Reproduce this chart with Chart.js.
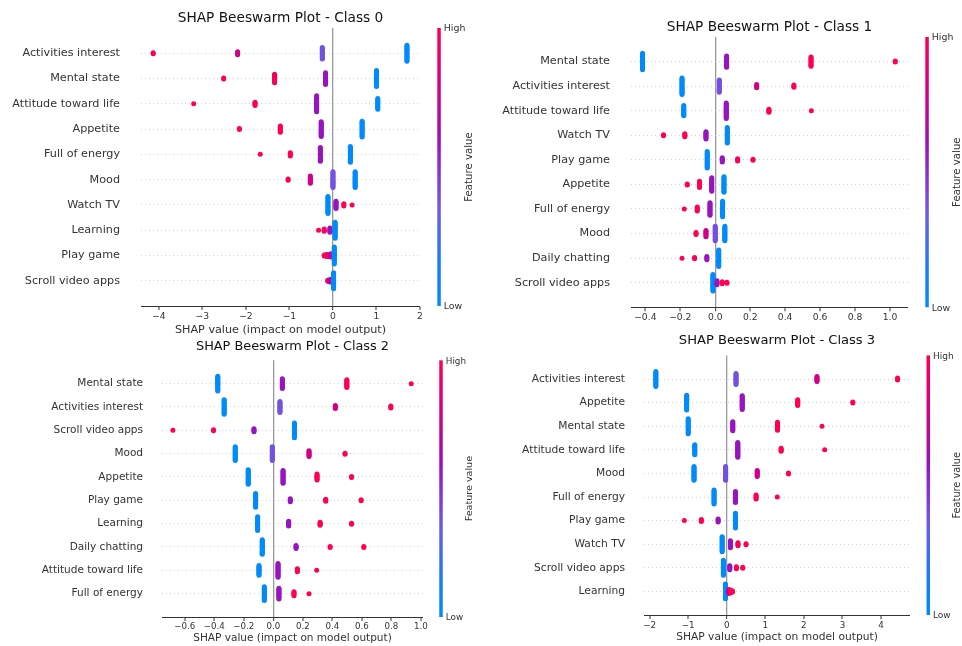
<!DOCTYPE html>
<html>
<head>
<meta charset="utf-8">
<script src="https://cdn.jsdelivr.net/npm/chart.js@4.4.0/dist/chart.umd.min.js"></script>
<style>
body { margin: 0; background: #fff; }
#wrap { position: relative; width: 962px; height: 646px; overflow: hidden; background: #fff; }
canvas { position: absolute; }
</style>
</head>
<body>
<div id="wrap">
  <canvas id="c0"></canvas>
  <canvas id="c1"></canvas>
  <canvas id="c2"></canvas>
  <canvas id="c3"></canvas>
</div>
<script>
'use strict';

// features, top row first
// clumps per row: [shap value, samples in clump, feature value 0(low)..1(high)]

// class 0
const features0 = ['Activities interest', 'Mental state', 'Attitude toward life', 'Appetite', 'Full of energy',
  'Mood', 'Watch TV', 'Learning', 'Play game', 'Scroll video apps'];
const clumps0 = [
  [[-4.13, 2, 1], [-2.19, 4, 0.8], [-0.245, 12, 0.38], [1.70, 16, 0]],
  [[-2.51, 2, 1], [-1.34, 9, 0.95], [-0.17, 12, 0.58], [1.0, 16, 0]],
  [[-3.2, 1, 1], [-1.79, 4, 1], [-0.375, 16, 0.58], [1.03, 11, 0]],
  [[-2.15, 2, 1], [-1.21, 7, 1], [-0.27, 15, 0.58], [0.67, 16, 0]],
  [[-1.67, 1, 1], [-0.98, 4, 1], [-0.29, 14, 0.58], [0.40, 16, 0]],
  [[-1.03, 2, 1], [-0.52, 8, 0.8], [0.0, 16, 0.38], [0.51, 16, 0]],
  [[-0.115, 17, 0], [0.07, 8, 0.58], [0.25, 3, 1], [0.44, 1, 1]],
  [[-0.33, 1, 1], [-0.2, 3, 1], [-0.07, 5, 0.58], [0.05, 16, 0]],
  [[-0.2, 2, 1], [-0.15, 3, 1], [-0.1, 3, 0.9], [-0.05, 4, 0.75], [0.03, 17, 0]],
  [[-0.12, 2, 1], [-0.08, 3, 0.8], [-0.04, 4, 0.7], [0.015, 16, 0]]
];
const ticks0 = [-4, -3, -2, -1, 0, 1, 2];

// class 1
const features1 = ['Mental state', 'Activities interest', 'Attitude toward life', 'Watch TV', 'Play game',
  'Appetite', 'Full of energy', 'Mood', 'Daily chatting', 'Scroll video apps'];
const clumps1 = [
  [[-0.416, 17, 0], [0.065, 12, 0.58], [0.548, 10, 1], [1.03, 2, 1]],
  [[-0.19, 17, 0], [0.023, 13, 0.38], [0.237, 4, 0.8], [0.45, 3, 1]],
  [[-0.18, 11, 0], [0.063, 16, 0.58], [0.307, 4, 1], [0.55, 1, 1]],
  [[-0.296, 2, 1], [-0.174, 4, 1], [-0.053, 8, 0.58], [0.069, 16, 0]],
  [[-0.046, 17, 0], [0.04, 5, 0.58], [0.128, 3, 1], [0.216, 2, 1]],
  [[-0.16, 2, 1], [-0.09, 7, 1], [-0.02, 14, 0.58], [0.05, 16, 0]],
  [[-0.177, 1, 1], [-0.103, 5, 1], [-0.03, 13, 0.58], [0.042, 16, 0]],
  [[-0.11, 3, 1], [-0.053, 7, 0.8], [0.0, 15, 0.38], [0.055, 15, 0]],
  [[-0.19, 1, 1], [-0.118, 2, 1], [-0.048, 4, 0.58], [0.02, 17, 0]],
  [[-0.013, 17, 0], [0.01, 5, 0.58], [0.04, 3, 1], [0.067, 2, 1]]
];
const ticks1 = [-0.4, -0.2, 0.0, 0.2, 0.4, 0.6, 0.8, 1.0];

// class 2
const features2 = ['Mental state', 'Activities interest', 'Scroll video apps', 'Mood', 'Appetite',
  'Play game', 'Learning', 'Daily chatting', 'Attitude toward life', 'Full of energy'];
const clumps2 = [
  [[-0.376, 16, 0], [0.061, 11, 0.58], [0.498, 9, 1], [0.934, 1, 1]],
  [[-0.333, 16, 0], [0.045, 12, 0.38], [0.42, 4, 0.8], [0.796, 3, 1]],
  [[-0.68, 1, 1], [-0.405, 2, 1], [-0.131, 4, 0.58], [0.143, 16, 0]],
  [[-0.258, 15, 0], [-0.007, 15, 0.38], [0.242, 7, 0.8], [0.486, 2, 1]],
  [[-0.17, 16, 0], [0.066, 14, 0.58], [0.296, 7, 1], [0.53, 2, 1]],
  [[-0.12, 15, 0], [0.115, 4, 0.58], [0.355, 3, 1], [0.595, 2, 1]],
  [[-0.106, 15, 0], [0.104, 6, 0.58], [0.317, 4, 1], [0.53, 2, 1]],
  [[-0.075, 16, 0], [0.154, 4, 0.58], [0.385, 2, 1], [0.613, 2, 1]],
  [[-0.097, 11, 0], [0.032, 15, 0.58], [0.163, 4, 1], [0.294, 1, 1]],
  [[-0.061, 15, 0], [0.038, 12, 0.58], [0.14, 5, 1], [0.242, 1, 1]]
];
const ticks2 = [-0.6, -0.4, -0.2, 0.0, 0.2, 0.4, 0.6, 0.8, 1.0];

// class 3
const features3 = ['Activities interest', 'Appetite', 'Mental state', 'Attitude toward life', 'Mood',
  'Full of energy', 'Play game', 'Watch TV', 'Scroll video apps', 'Learning'];
const clumps3 = [
  [[-1.84, 16, 0], [0.24, 12, 0.38], [2.34, 6, 0.8], [4.43, 3, 1]],
  [[-1.04, 16, 0], [0.40, 15, 0.58], [1.84, 7, 1], [3.27, 2, 1]],
  [[-1.0, 16, 0], [0.156, 10, 0.58], [1.316, 9, 1], [2.47, 1, 1]],
  [[-0.83, 11, 0], [0.286, 16, 0.58], [1.41, 4, 1], [2.54, 1, 1]],
  [[-0.85, 15, 0], [-0.03, 15, 0.38], [0.79, 7, 0.8], [1.6, 2, 1]],
  [[-0.33, 15, 0], [0.225, 12, 0.58], [0.76, 5, 1], [1.31, 1, 1]],
  [[-1.1, 1, 1], [-0.66, 3, 1], [-0.225, 4, 0.58], [0.225, 16, 0]],
  [[-0.12, 16, 0], [0.095, 8, 0.58], [0.29, 4, 1], [0.5, 2, 1]],
  [[-0.087, 16, 0], [0.078, 5, 0.58], [0.25, 3, 1], [0.415, 2, 1]],
  [[-0.035, 16, 0], [0.05, 5, 0.75], [0.1, 4, 1], [0.15, 2, 1]]
];
const ticks3 = [-2, -1, 0, 1, 2, 3, 4];

// blue -> purple -> red, like shap's red_blue
const cmapStops = [
  [0, [0, 139, 251]], [0.15, [25, 125, 248]], [0.35, [110, 90, 230]], [0.5, [140, 45, 205]],
  [0.6, [155, 15, 185]], [0.8, [210, 0, 135]], [1, [255, 0, 82]]
];
function cmap(v) {
  for (let i = 1; i < cmapStops.length; i++) {
    let a = cmapStops[i - 1], b = cmapStops[i];
    if (v <= b[0]) {
      let t = (v - a[0]) / (b[0] - a[0]);
      let c = a[1].map((x, j) => Math.round(x + (b[1][j] - x) * t));
      return 'rgb(' + c.join(',') + ')';
    }
  }
  return 'rgb(255,0,82)';
}

const FONT = '"DejaVu Sans", sans-serif';

// stack each clump vertically like the beeswarm does
function swarm(features, clumps) {
  let pts = [];
  let n = features.length;
  for (let i = 0; i < n; i++) {
    let row = n - 1 - i;
    clumps[i].forEach(cl => {
      for (let k = 0; k < cl[1]; k++) {
        pts.push({x: cl[0], y: row + (k - (cl[1] - 1) / 2) * 0.042, c: cl[2]});
      }
    });
  }
  return pts;
}

// title over the plot area + colour bar on the right
const decor = {
  id: 'decor',
  afterDraw(chart, args, opts) {
    let a = chart.chartArea, ctx = chart.ctx, s = opts.s;
    ctx.save();
    ctx.fillStyle = '#111';
    ctx.font = (13.7 * s) + 'px ' + FONT;
    ctx.textAlign = 'center';
    ctx.textBaseline = 'middle';
    ctx.fillText(opts.title, (a.left + a.right) / 2, opts.titleY);

    let x = a.right + 17.3 * s, w = 3.5;
    let g = ctx.createLinearGradient(0, a.bottom, 0, a.top);
    cmapStops.forEach(st => g.addColorStop(st[0], 'rgb(' + st[1].join(',') + ')'));
    ctx.fillStyle = g;
    ctx.fillRect(x, a.top, w, a.bottom - a.top);
    ctx.fillStyle = '#333';
    ctx.font = (9.4 * s) + 'px ' + FONT;
    ctx.textAlign = 'left';
    ctx.fillText('High', x + w + 3, a.top + 1);
    ctx.fillText('Low', x + w + 3, a.bottom + 1);
    ctx.translate(a.right + 49.5 * s, (a.top + a.bottom) / 2);
    ctx.rotate(-Math.PI / 2);
    ctx.textAlign = 'center';
    ctx.font = (10.2 * s) + 'px ' + FONT;
    ctx.fillText('Feature value', 0, 0);
    ctx.restore();
  }
};

// box = canvas [x, y, w, h], area = plot [left, top, right, bottom]
function makeChart(id, p) {
  let cv = document.getElementById(id);
  let [bx, by, bw, bh] = p.box;
  let [l, t, r, b] = p.area;
  cv.width = bw; cv.height = bh;
  cv.style.left = bx + 'px'; cv.style.top = by + 'px';
  cv.style.width = bw + 'px'; cv.style.height = bh + 'px';
  let s = p.s;
  let n = p.features.length;
  let labSize = 11.2 * s, tickSize = 9.2 * s;
  let llh = labSize * 1.2;

  new Chart(cv, {
    type: 'scatter',
    data: {
      datasets: [{
        data: swarm(p.features, p.clumps),
        pointRadius: 2.5,
        pointHoverRadius: 2.5,
        borderWidth: 0,
        pointBackgroundColor: ctx => cmap(ctx.raw ? ctx.raw.c : 0)
      }]
    },
    plugins: [decor],
    options: {
      responsive: false,
      animation: false,
      events: [],
      layout: {padding: {left: 0, top: t - by, bottom: 0, right: bx + bw - r}},
      plugins: {
        legend: {display: false},
        tooltip: {enabled: false},
        decor: {s: s, title: p.title, titleY: p.titleY - by}
      },
      scales: {
        x: {
          type: 'linear',
          min: p.xmin,
          max: p.xmax,
          afterBuildTicks: sc => { sc.ticks = p.ticks.map(v => ({value: v})); },
          afterFit: sc => { sc.height = by + bh - b; },
          ticks: {
            autoSkip: false,
            maxRotation: 0,
            padding: 1,
            color: '#333',
            font: {family: FONT, size: tickSize},
            callback: v => {
              let txt = p.dec ? Math.abs(v).toFixed(p.dec) : String(Math.abs(Math.round(v)));
              return v < -1e-9 ? '\u2212' + txt : txt;
            }
          },
          grid: {
            color: ctx => (ctx.tick && ctx.tick.value === 0) ? '#999' : 'rgba(0,0,0,0)',
            lineWidth: ctx => (ctx.tick && ctx.tick.value === 0) ? 1.3 : 0,
            drawTicks: true,
            tickLength: 4,
            tickColor: '#333',
            tickWidth: 1
          },
          border: {display: true, color: '#333', width: 1},
          title: {
            display: !!p.xlabelY,
            text: 'SHAP value (impact on model output)',
            color: '#333',
            font: {family: FONT, size: labSize, lineHeight: 1.2},
            padding: {top: 0, bottom: p.xlabelY ? (by + bh - p.xlabelY - llh / 2) : 0}
          }
        },
        y: {
          type: 'linear',
          min: -1,
          max: n,
          afterBuildTicks: sc => { sc.ticks = p.features.map((f, i) => ({value: i})); },
          afterFit: sc => { sc.width = l - bx; },
          ticks: {
            autoSkip: false,
            padding: p.labelGap,
            color: '#333',
            font: {family: FONT, size: labSize},
            callback: v => p.features[n - 1 - v]
          },
          grid: {color: '#c8c8c8', lineWidth: 0.8, drawTicks: false},
          border: {display: false, dash: [1, 3]}
        }
      }
    }
  });
}

makeChart('c0', {
  box: [0, 0, 480, 345], area: [141, 28, 420, 306], titleY: 18, xlabelY: 330, labelGap: 21, s: 1,
  title: 'SHAP Beeswarm Plot - Class 0', features: features0, clumps: clumps0,
  xmin: -4.41, xmax: 2.0, ticks: ticks0, dec: 0
});
makeChart('c1', {
  box: [480, 0, 482, 335], area: [631, 37, 908, 313], titleY: 27, xlabelY: null, labelGap: 21, s: 1,
  title: 'SHAP Beeswarm Plot - Class 1', features: features1, clumps: clumps1,
  xmin: -0.482, xmax: 1.103, ticks: ticks1, dec: 1
});
makeChart('c2', {
  box: [0, 335, 480, 311], area: [162, 357, 423, 617], titleY: 347, xlabelY: 638, labelGap: 19, s: 0.94,
  title: 'SHAP Beeswarm Plot - Class 2', features: features2, clumps: clumps2,
  xmin: -0.754, xmax: 1.014, ticks: ticks2, dec: 1
});
makeChart('c3', {
  box: [480, 330, 482, 316], area: [644, 351, 910, 615], titleY: 341, xlabelY: 637, labelGap: 19, s: 0.955,
  title: 'SHAP Beeswarm Plot - Class 3', features: features3, clumps: clumps3,
  xmin: -2.147, xmax: 4.753, ticks: ticks3, dec: 0
});
</script>
</body>
</html>
